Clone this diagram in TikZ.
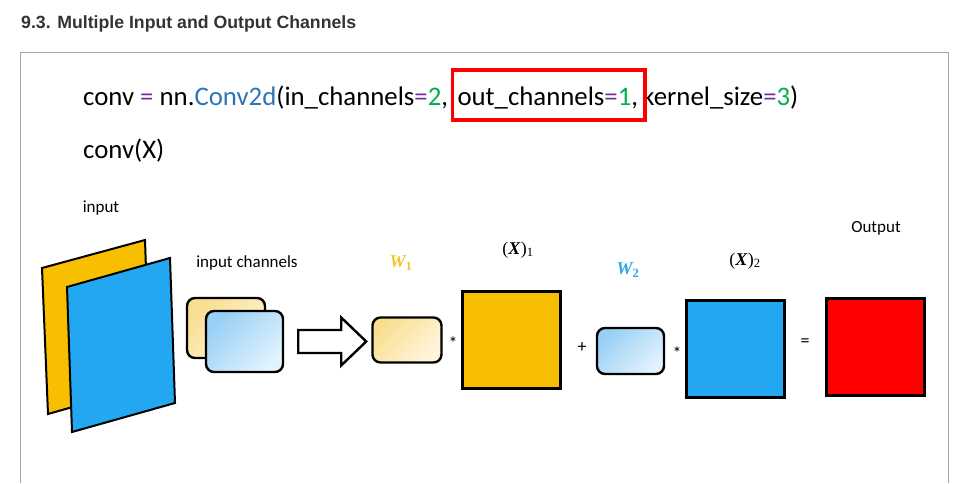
\documentclass[tikz,border=0pt]{standalone}
\usepackage{fontspec}
\setmainfont{Carlito}
\newfontfamily\titlefont{Liberation Sans}
\newfontfamily\formula{Liberation Serif}
\usetikzlibrary{positioning,calc}

\definecolor{eqpurple}{HTML}{7030A0}
\definecolor{convblue}{HTML}{2E75B6}
\definecolor{numgreen}{HTML}{00B050}
\definecolor{chyellow}{HTML}{F7BF00}
\definecolor{chblue}{HTML}{22A7F0}
\definecolor{kyellowA}{HTML}{F9DE90}
\definecolor{kyellowB}{HTML}{FFF6DE}
\definecolor{kblueA}{HTML}{98CFF5}
\definecolor{kblueB}{HTML}{E2F3FE}
\definecolor{wyellow}{HTML}{F4C325}
\definecolor{wblue}{HTML}{2AA7E8}
\definecolor{framegray}{HTML}{A6A6A6}
\definecolor{titlegray}{HTML}{333333}

\begin{document}
\begin{tikzpicture}[x=1pt,y=-1pt]

  % Estilos
  \tikzset{
    code/.style={
      anchor=base west,
      inner sep=0pt,
      font=\fontsize{26.8}{30}\selectfont
    },
    etiqueta/.style={font=\fontsize{17}{20}\selectfont},
    signo/.style={font=\fontsize{18}{20}\selectfont},
    peso/.style={font=\formula\fontsize{18}{21}\selectfont},
    matriz/.style={
      draw,
      line width=3pt,
      minimum width=98pt,
      minimum height=97pt,
      inner sep=0pt
    },
    kernel/.style={
      draw,
      line width=2.4pt,
      rounded corners=8pt,
      inner sep=0pt
    },
    kamarillo/.style={kernel, top color=kyellowA, bottom color=kyellowB, shading angle=45},
    kazul/.style={kernel, top color=kblueA, bottom color=kblueB, shading angle=45},
    plano/.style={draw, line width=2pt},
    flecha/.style={draw, fill=white, line width=2.4pt},
    recuadro/.style={draw=red, line width=3.5pt},
    marco/.style={draw=framegray, line width=1pt}
  }

  \useasboundingbox (0,0) rectangle (959,483);

  % Titulo y marco
  \node[anchor=base west, inner sep=0pt, text=titlegray,
    font=\titlefont\bfseries\fontsize{17.7}{20}\selectfont] (titulo) at (21,28)
    {9.3. Multiple Input and Output Channels};
  \draw[marco] (20,483) -- (20,52) -- (948,52) -- (948,483);

  % Codigo
  \node[code] (c1) at (83,105)
    {conv {\color{eqpurple}=} nn.{\color{convblue}Conv2d}(in\_channels{\color{eqpurple}=}{\color{numgreen}2},};
  \node[code, right=9pt of c1.base east, anchor=base west] (c2)
    {out\_channels{\color{eqpurple}=}{\color{numgreen}1},};
  \node[code, right=4pt of c2.base east, anchor=base west] (c3)
    {kernel\_size{\color{eqpurple}=}{\color{numgreen}3})};
  \node[code] (c4) at (83,158) {conv(X)};
  \draw[recuadro] ([shift={(-5,-35)}]c2.base west) rectangle ([shift={(7,15)}]c2.base east);

  % Planos de entrada
  \draw[plano, fill=chyellow] (42,268) -- (145,240) -- (150,385) -- (48,414) -- cycle;
  \draw[plano, fill=chblue] (67,287) -- (170,258) -- (175,403) -- (72,432) -- cycle;

  % Nodos
  \node[kamarillo, minimum width=78pt, minimum height=60pt] (ch1) at (226,328) {};
  \node[kazul, minimum width=77pt, minimum height=61pt] (ch2) at (244.5,341.5) {};
  \node[kamarillo, minimum width=69pt, minimum height=45pt] (w1) at (407,340) {};
  \node[matriz, fill=chyellow] (x1) at (511,340) {};
  \node[kazul, minimum width=67pt, minimum height=46pt] (w2) at (630.5,351) {};
  \node[matriz, fill=chblue] (x2) at (735,348.5) {};
  \node[matriz, fill=red] (out) at (875,347) {};

  % Flecha
  \draw[flecha, shift={($(ch2.east)+(14,0)$)}]
    (0,-11.5) -- (43,-11.5) -- (43,-24) -- (68,0) -- (43,24) -- (43,11.5) -- (0,11.5) -- cycle;

  % Signos
  \node[signo] (s1) at (453,343) {*};
  \node[signo] (s2) at (582,348) {+};
  \node[signo] (s3) at (677,353) {*};
  \node[signo] (s4) at (805,343) {=};

  % Etiquetas
  \node[etiqueta] (lin) at (101,208) {input};
  \node[etiqueta] (lch) at (247,263) {input channels};
  \node[etiqueta] (lout) at (876,228) {Output};
  \node[peso, text=wyellow] (lw1) at (401,263) {\bfseries\itshape W\textsubscript{\upshape 1}};
  \node[peso, text=wblue] (lw2) at (628,270) {\bfseries\itshape W\textsubscript{\upshape 2}};
  \node[peso] (lx1) at (518,250) {(\textbf{\textit{X}})\textsubscript{1}};
  \node[peso] (lx2) at (745,261) {(\textbf{\textit{X}})\textsubscript{2}};

\end{tikzpicture}
\end{document}
